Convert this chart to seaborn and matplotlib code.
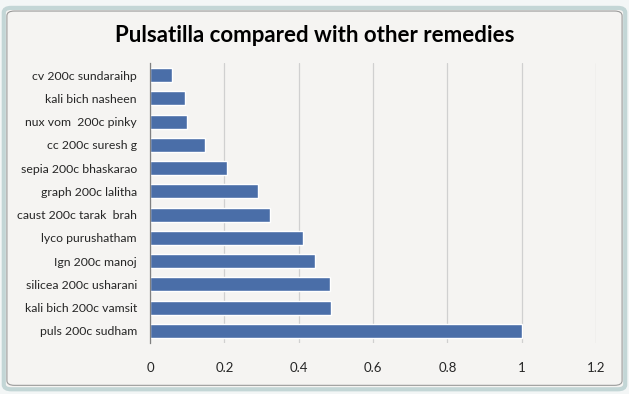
import matplotlib
matplotlib.use("Agg")
import matplotlib.pyplot as plt
from matplotlib.patches import FancyBboxPatch
import seaborn as sns
import pandas as pd

# data, top to bottom
remedies = ["cv 200c sundaraihp", "kali bich nasheen", "nux vom  200c pinky",
            "cc 200c suresh g", "sepia 200c bhaskarao", "graph 200c lalitha",
            "caust 200c tarak  brah", "lyco purushatham", "Ign 200c manoj",
            "silicea 200c usharani", "kali bich 200c vamsit", "puls 200c sudham"]
scores = [0.059, 0.094, 0.100, 0.148, 0.207, 0.290,
          0.324, 0.412, 0.445, 0.483, 0.486, 1.0]
x_ticks = [0, 0.2, 0.4, 0.6, 0.8, 1.0, 1.2]
x_tick_labels = ["0", "0.2", "0.4", "0.6", "0.8", "1", "1.2"]

df = pd.DataFrame({"remedy": remedies, "score": scores})

sns.set_style("white")
plt.rcParams["font.family"] = ["Lato", "DejaVu Sans"]

fig = plt.figure(figsize=(6.29, 3.94), dpi=100, facecolor="#f3f6f6")

# excel-ish chart frame, kept behind the axes
frame = FancyBboxPatch((0.006, 0.012), 0.988, 0.968, boxstyle="round,pad=0,rounding_size=0.012",
                       transform=fig.transFigure, facecolor="#f5f4f2", edgecolor="#c3d6d6",
                       linewidth=3, zorder=-3)
fig.patches.append(frame)
inner = FancyBboxPatch((0.011, 0.022), 0.978, 0.95, boxstyle="round,pad=0,rounding_size=0.012",
                       transform=fig.transFigure, facecolor="#f5f4f2", edgecolor="#9a9a9a",
                       linewidth=0.8, zorder=-2)
fig.patches.append(inner)

ax = fig.add_axes([0.2385, 0.1305, 0.709, 0.7085])
ax.set_facecolor("none")

sns.barplot(data=df, x="score", y="remedy", color="#4a6ea8", saturation=1,
            width=0.6, ax=ax, zorder=3)

ax.set_xlim(0, 1.2)
ax.set_xticks(x_ticks)
ax.set_xticklabels(x_tick_labels, fontsize=9.5)
ax.tick_params(axis="x", direction="in", length=8, color="#808080", pad=14, width=0.8)
ax.tick_params(axis="y", length=0, pad=9.5, labelsize=8.8)
ax.grid(axis="x", color="#d0d0d0", linewidth=0.9, zorder=0)
ax.set_axisbelow(True)

for side in ["top", "right", "bottom"]:
    ax.spines[side].set_visible(False)
ax.spines["left"].set_color("#808080")
ax.spines["left"].set_linewidth(0.9)
ax.spines["left"].set_zorder(4)

ax.set_xlabel("")
ax.set_ylabel("")

fig.text(0.5, 0.91, "Pulsatilla compared with other remedies", ha="center", va="center",
         fontsize=16, fontweight="bold", color="#000000")

fig.savefig("out.png", dpi=100, facecolor=fig.get_facecolor())
